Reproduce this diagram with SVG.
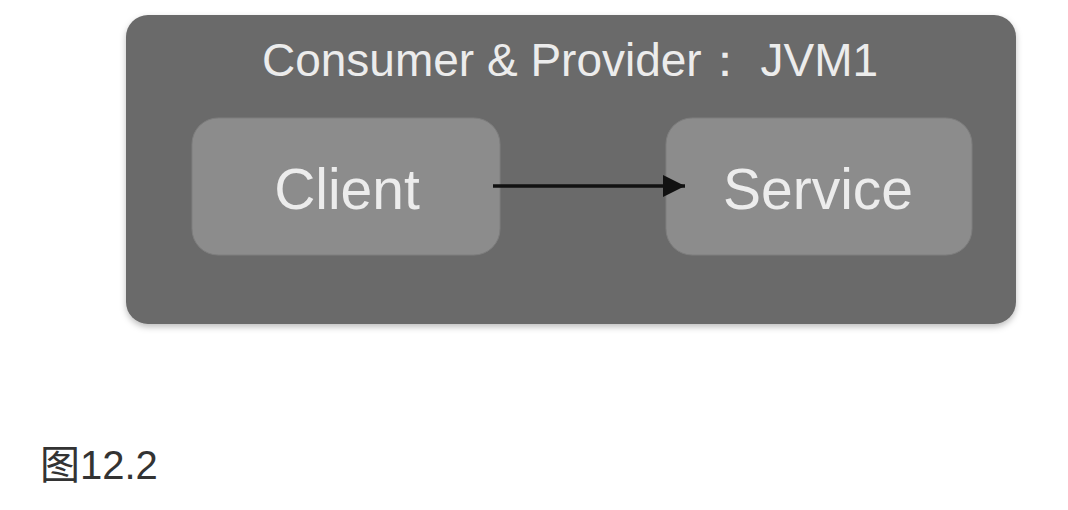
<svg xmlns="http://www.w3.org/2000/svg" width="1068" height="510" viewBox="0 0 1068 510">
<style>
.lbl{font-family:"Liberation Sans","Noto Sans",Arial,sans-serif;fill:#ececec;text-anchor:middle}
.node{fill:#8c8c8c;stroke:#7e7e7e;stroke-width:1}
</style>
<defs>
<filter id="sh" x="-5%" y="-5%" width="110%" height="115%">
<feDropShadow dx="0" dy="3" stdDeviation="3" flood-color="#000" flood-opacity="0.25"/>
</filter>
<marker id="arr" markerWidth="22" markerHeight="22" refX="22" refY="11" orient="auto" markerUnits="userSpaceOnUse" viewBox="0 0 22 22">
<path d="M0,0 L22,11 L0,22 z" fill="#111"/>
</marker>
</defs>
<rect width="1068" height="510" fill="#fff"/>
<g id="jvm1">
<rect x="126" y="15" width="890" height="309" rx="22" fill="#6a6a6a" filter="url(#sh)"/>
<text class="lbl" x="570" y="76" font-size="46">Consumer &amp; Provider： JVM1</text>
</g>
<g id="client">
<rect class="node" x="192" y="118" width="308" height="137" rx="26"/>
<text class="lbl" x="347" y="209" font-size="57">Client</text>
</g>
<g id="service">
<rect class="node" x="666" y="118" width="306" height="137" rx="26"/>
<text class="lbl" x="818" y="209" font-size="57">Service</text>
</g>
<g id="connectors">
<line x1="493" y1="186" x2="685" y2="186" stroke="#111" stroke-width="3.5" marker-end="url(#arr)"/>
</g>
<text x="40" y="479" font-size="40" fill="#333" font-family="'Liberation Sans','Noto Sans CJK SC',sans-serif">图12.2</text>
</svg>
